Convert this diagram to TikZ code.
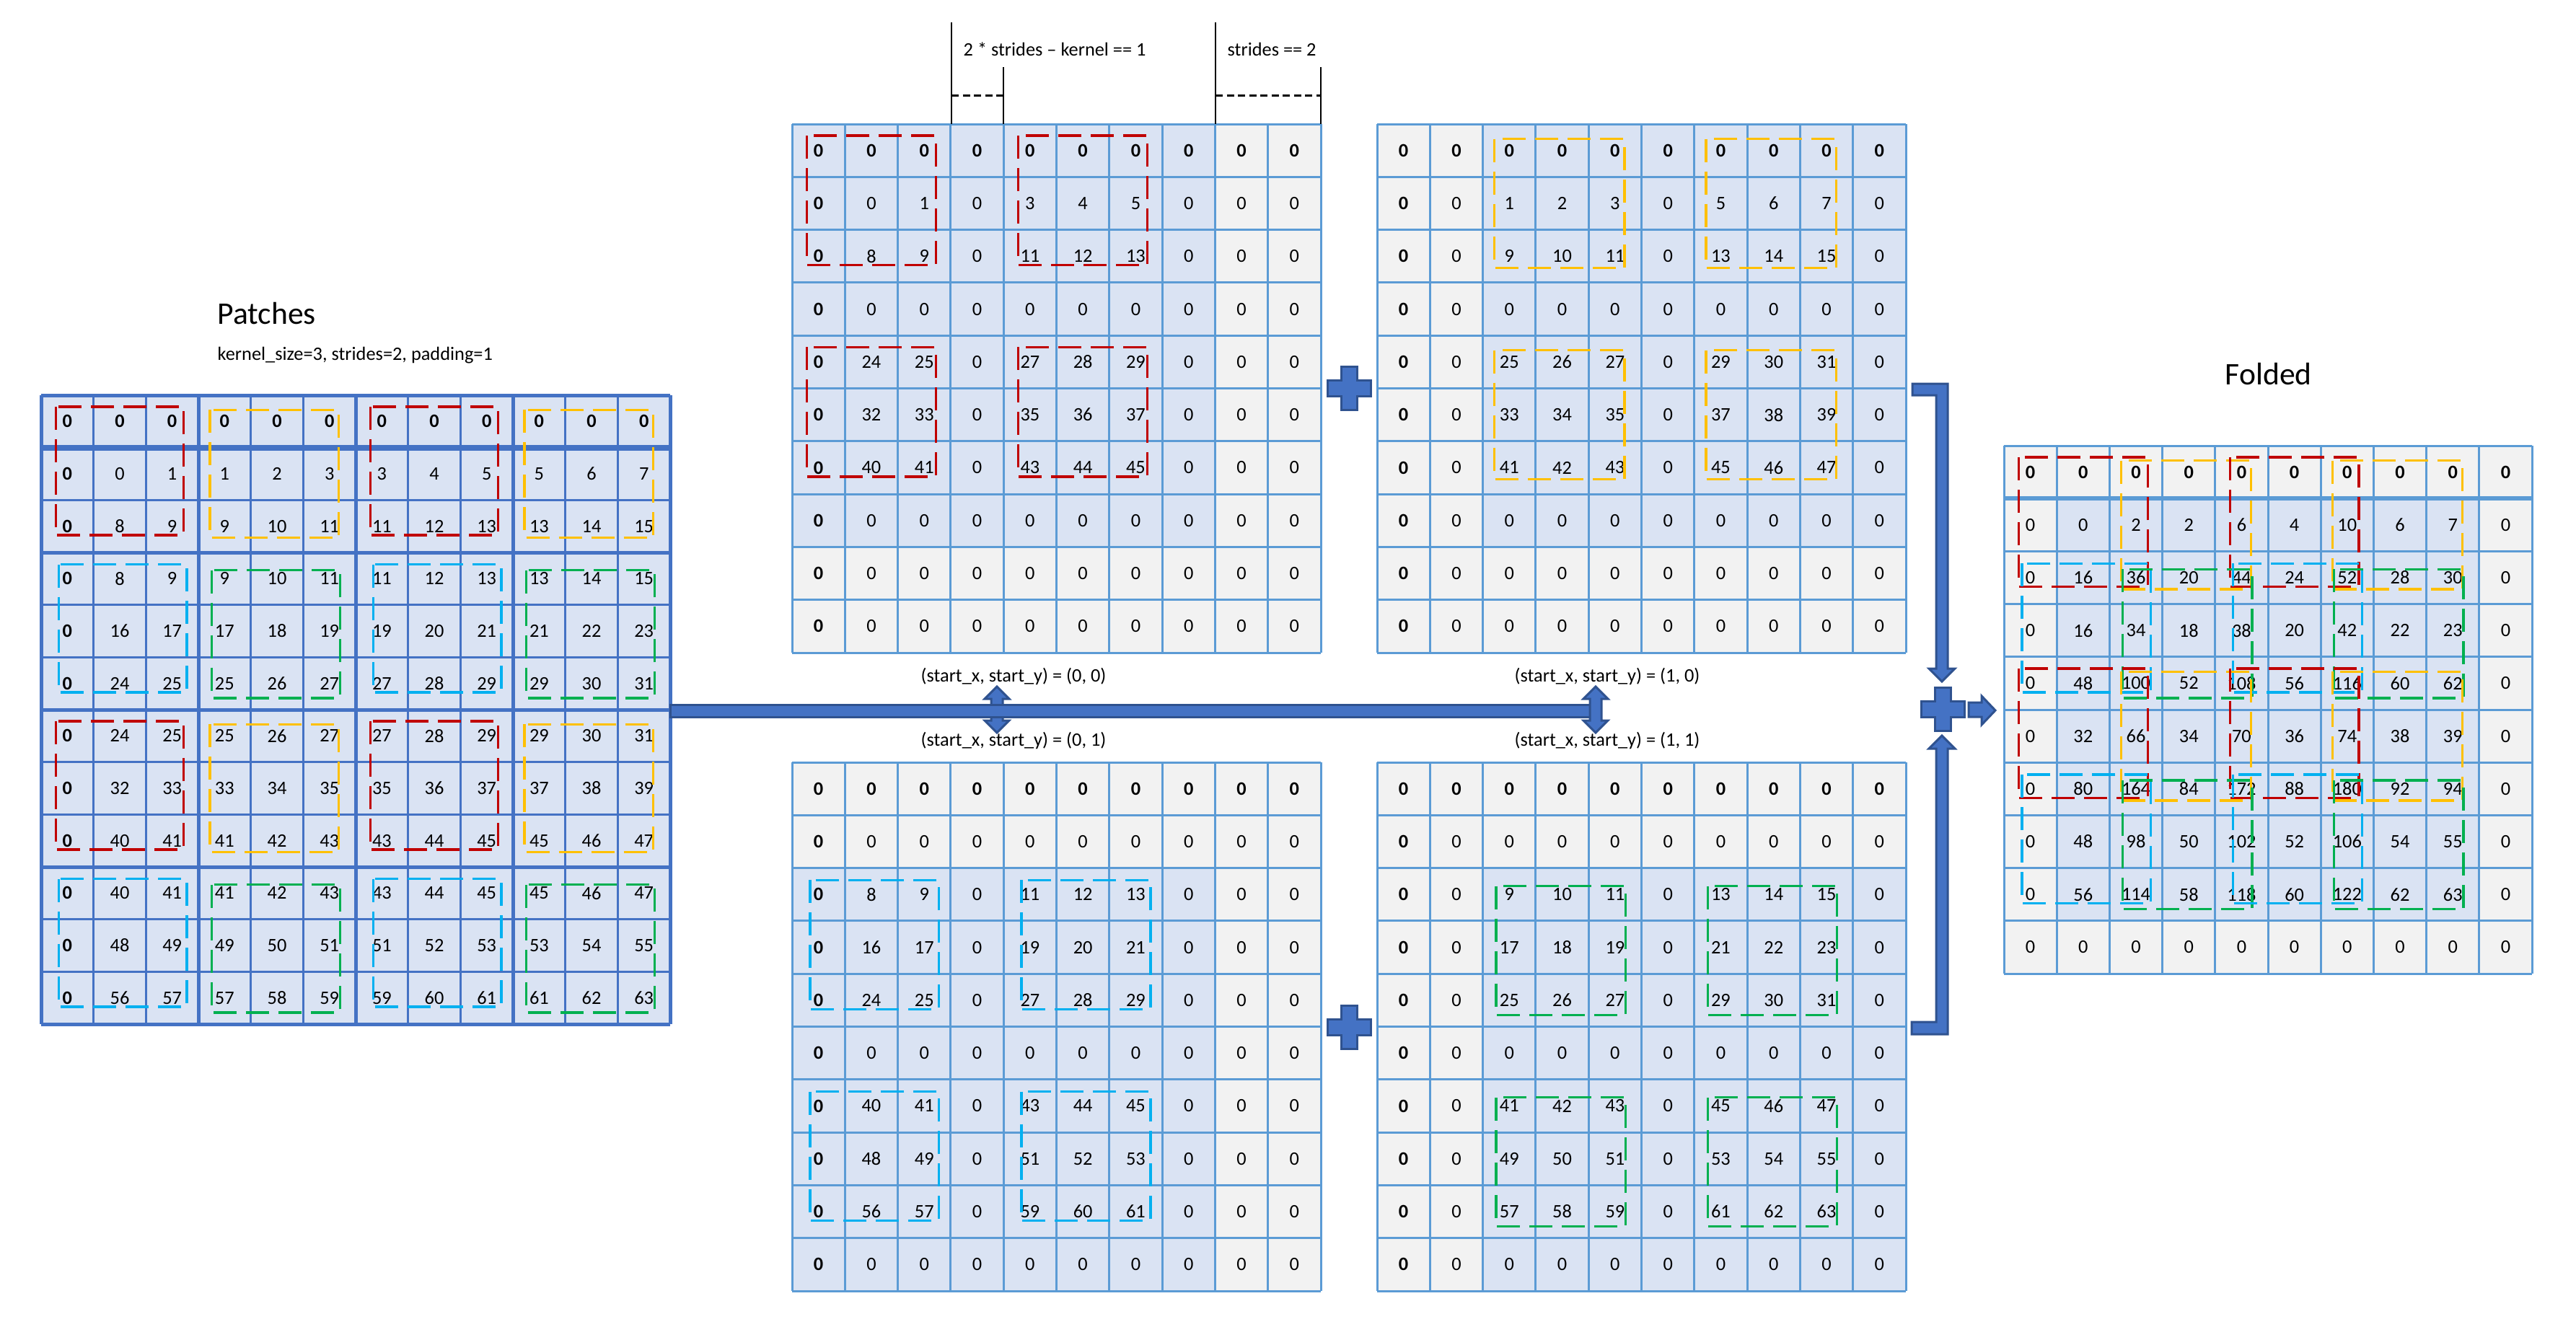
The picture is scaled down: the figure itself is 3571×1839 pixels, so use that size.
\documentclass[tikz,border=0pt]{standalone}
\usepackage{fontspec}
\setmainfont{Carlito}
\usetikzlibrary{calc}

\definecolor{cellblue}{HTML}{DAE3F3}
\definecolor{cellgray}{HTML}{F2F2F2}
\definecolor{gridblue}{HTML}{5B9BD5}
\definecolor{patchblue}{HTML}{4472C4}
\definecolor{shapefill}{HTML}{4472C4}
\definecolor{shapeline}{HTML}{2F528F}
\definecolor{kred}{HTML}{C00000}
\definecolor{kyellow}{HTML}{FFC000}
\definecolor{kcyan}{HTML}{00B0F0}
\definecolor{kgreen}{HTML}{00B050}

% 虚线框: #1 颜色编号, #2 行, #3 列, #4 格宽
\newcommand{\patchbox}[4]{%
  \ifcase#1\relax
    \def\bcol{kred}\def\kbl{.28}\def\kbt{.22}\def\kbr{.28}\def\kbb{.33}%
  \or
    \def\bcol{kyellow}\def\kbl{.22}\def\kbt{.28}\def\kbr{.32}\def\kbb{.28}%
  \or
    \def\bcol{kcyan}\def\kbl{.34}\def\kbt{.23}\def\kbr{.22}\def\kbb{.33}%
  \or
    \def\bcol{kgreen}\def\kbl{.25}\def\kbt{.34}\def\kbr{.30}\def\kbb{.22}%
  \fi
  \draw[dbox, draw=\bcol] ({(#3+\kbl)*#4},{(#2+\kbt)*#4}) rectangle ({(#3+3-\kbr)*#4},{(#2+3-\kbb)*#4});%
}

\begin{document}
\begin{tikzpicture}[
    x=0.1mm, y=-0.1mm,
    num/.style={font=\fontsize{7.5}{9}\selectfont, inner sep=0pt},
    lbl/.style={font=\fontsize{7.5}{9}\selectfont, inner sep=0pt, anchor=base},
    title/.style={font=\fontsize{12.4}{15}\selectfont, inner sep=0pt, anchor=base west},
    gline/.style={draw=gridblue, line width=0.3mm},
    pline/.style={draw=patchblue, line width=0.35mm},
    dbox/.style={line width=0.33mm, dash pattern=on 3.2mm off 1.3mm},
    bracketline/.style={draw=black, line width=0.25mm},
    bracketdash/.style={draw=black, line width=0.33mm, dash pattern=on 1mm off 0.55mm},
    blockarrow/.style={fill=shapefill, draw=shapeline, line width=0.3mm, line join=miter}
]
\useasboundingbox (0,0) rectangle (3571,1839);

% 左侧 Patches
\node[title] (ptitle) at (301,449) {Patches};
\node[lbl, anchor=base west] (pinfo) at (301,499) {kernel\_size=3, strides=2, padding=1};

\begin{scope}[shift={(57,548)}]
  \def\cellw{72.67}
  \fill[cellblue] (0,0) rectangle ({12*\cellw},{12*\cellw});
  \foreach \k in {0,...,12}{
    \draw[pline] ({\k*\cellw},0) -- ({\k*\cellw},{12*\cellw});
    \draw[pline] (0,{\k*\cellw}) -- ({12*\cellw},{\k*\cellw});
  }
  \foreach \k in {0,3,...,12}{
    \draw[pline, line width=0.5mm] ({\k*\cellw},0) -- ({\k*\cellw},{12*\cellw});
    \draw[pline, line width=0.5mm] (0,{\k*\cellw}) -- ({12*\cellw},{\k*\cellw});
  }
  \draw[pline, line width=0.8mm] (0,\cellw) -- ({12*\cellw},\cellw);
  \foreach \ri in {0,...,11}{
    \foreach \ci in {0,...,11}{
      \pgfmathtruncatemacro\prow{2*div(\ri,3)+mod(\ri,3)}
      \pgfmathtruncatemacro\pcol{2*div(\ci,3)+mod(\ci,3)}
      \pgfmathtruncatemacro\ispad{(\prow==0)||(\pcol==0)}
      \pgfmathtruncatemacro\val{(\prow-1)*8+\pcol-1}
      \ifnum\ispad=1 \def\celltext{\textbf{0}}\else \let\celltext\val \fi
      \node[num] (p-\ri-\ci) at ({(\ci+.5)*\cellw},{(\ri+.5)*\cellw}) {\celltext};
    }
  }
  \foreach \bi in {0,...,3}{
    \foreach \bj in {0,...,3}{
      \pgfmathtruncatemacro\pcode{2*mod(\bi,2)+mod(\bj,2)}
      \pgfmathtruncatemacro\brow{3*\bi}
      \pgfmathtruncatemacro\bcolm{3*\bj}
      \patchbox{\pcode}{\brow}{\bcolm}{\cellw}
    }
  }
\end{scope}

% 中间四个网格
\foreach \sx/\sy/\ox/\oy in {0/0/1098/172, 1/0/1909/172, 0/1/1098/1057, 1/1/1909/1057}{
  \begin{scope}[shift={(\ox,\oy)}]
    \def\cellw{73.3}
    \fill[cellgray] (0,0) rectangle ({10*\cellw},{10*\cellw});
    \fill[cellblue] ({2*\sx*\cellw},{2*\sy*\cellw}) rectangle ++({8*\cellw},{8*\cellw});
    \foreach \k in {0,...,10}{
      \draw[gline] ({\k*\cellw},0) -- ({\k*\cellw},{10*\cellw});
      \draw[gline] (0,{\k*\cellw}) -- ({10*\cellw},{\k*\cellw});
    }
    \foreach \ri in {0,...,9}{
      \foreach \ci in {0,...,9}{
        \pgfmathtruncatemacro\covr{(\ri>=2*\sy)&&(\ri<=2*\sy+6)&&(mod(\ri-2*\sy+8,4)<3)}
        \pgfmathtruncatemacro\covc{(\ci>=2*\sx)&&(\ci<=2*\sx+6)&&(mod(\ci-2*\sx+8,4)<3)}
        \pgfmathtruncatemacro\val{\covr*\covc*(\ri>0)*(\ci>0)*((\ri-1)*8+\ci-1)}
        \pgfmathtruncatemacro\ispad{(\ri==0)||(\ci==0)}
        \ifnum\ispad=1 \def\celltext{\textbf{0}}\else \let\celltext\val \fi
        \node[num] (g\sx\sy-\ri-\ci) at ({(\ci+.5)*\cellw},{(\ri+.5)*\cellw}) {\celltext};
      }
    }
    \foreach \k in {0,1}{
      \foreach \l in {0,1}{
        \pgfmathtruncatemacro\pcode{2*\sy+\sx}
        \pgfmathtruncatemacro\brow{2*\sy+4*\k}
        \pgfmathtruncatemacro\bcolm{2*\sx+4*\l}
        \patchbox{\pcode}{\brow}{\bcolm}{\cellw}
      }
    }
  \end{scope}
}

% 上方标注
\coordinate (ka) at (1319,31);  \coordinate (ka-g) at (1319,172);
\coordinate (kb) at (1391,93);  \coordinate (kb-g) at (1391,172);
\coordinate (sa) at (1685,31);  \coordinate (sa-g) at (1685,172);
\coordinate (sb) at (1831,93);  \coordinate (sb-g) at (1831,172);
\draw[bracketline] (ka) -- (ka-g);
\draw[bracketline] (kb) -- (kb-g);
\draw[bracketline] (sa) -- (sa-g);
\draw[bracketline] (sb) -- (sb-g);
\draw[bracketdash] ($(ka)!0.72!(ka-g)$) -- ($(ka)!0.72!(ka-g)+(72,0)$);
\draw[bracketdash] ($(sa)!0.72!(sa-g)$) -- ($(sa)!0.72!(sa-g)+(146,0)$);
\node[lbl, anchor=base west] (kdiff) at (1335,77) {2 * strides -- kernel == 1};
\node[lbl, anchor=base west] (sdiff) at (1701,77) {strides == 2};

% start 标签
\node[lbl] (l00) at (1405,945) {(start\_x, start\_y) = (0, 0)};
\node[lbl] (l01) at (1405,1034) {(start\_x, start\_y) = (0, 1)};
\node[lbl] (l10) at (2228,945) {(start\_x, start\_y) = (1, 0)};
\node[lbl] (l11) at (2228,1034) {(start\_x, start\_y) = (1, 1)};

% 箭头和加号
\coordinate (da1) at (1382,952);
\coordinate (da2) at (2212,952);
\draw[blockarrow] (da1) -- ++(17,17) -- ++(-9,0) -- ++(0,30) -- ++(9,0) -- ++(-17,17) -- ++(-17,-17) -- ++(9,0) -- ++(0,-30) -- ++(-9,0) -- cycle;
\coordinate (bar-w) at (929,977);
\coordinate (bar-e) at (2204,994);
\draw[blockarrow] (bar-w) rectangle (bar-e);
\draw[blockarrow] (da2) -- ++(17,17) -- ++(-9,0) -- ++(0,30) -- ++(9,0) -- ++(-17,17) -- ++(-17,-17) -- ++(9,0) -- ++(0,-30) -- ++(-9,0) -- cycle;

\coordinate (plus1) at (1870,538);
\coordinate (plus2) at (1870,1424);
\coordinate (plus3) at (2693,983);
\foreach \pp in {plus1,plus2,plus3}{
  \draw[blockarrow] ($(\pp)+(-11,-30)$) -- ++(22,0) -- ++(0,19) -- ++(19,0) -- ++(0,22) -- ++(-19,0) -- ++(0,19) -- ++(-22,0) -- ++(0,-19) -- ++(-19,0) -- ++(0,-22) -- ++(19,0) -- cycle;
}

\coordinate (bend1) at (2651,532);
\coordinate (bend2) at (2650,1434);
\draw[blockarrow] (bend1) -- ++(49,0) -- ++(0,395) -- ++(10,0) -- ++(-18,18) -- ++(-18,-18) -- ++(10,0) -- ++(0,-379) -- ++(-33,0) -- cycle;
\draw[blockarrow] (bend2) -- ++(50,0) -- ++(0,-396) -- ++(10,0) -- ++(-18,-18) -- ++(-18,18) -- ++(10,0) -- ++(0,379) -- ++(-34,0) -- cycle;

\coordinate (outarr) at (2729,974);
\draw[blockarrow] (outarr) -- ++(18,0) -- ++(0,-9) -- ++(19,20) -- ++(-19,20) -- ++(0,-11) -- ++(-18,0) -- cycle;

% 右侧 Folded
\node[title] (ftitle) at (3084,533) {Folded};
\begin{scope}[shift={(2778,618)}]
  \def\cellw{73.2}
  \fill[cellgray] (0,0) rectangle ({10*\cellw},{10*\cellw});
  \fill[cellblue] (\cellw,\cellw) rectangle ({9*\cellw},{9*\cellw});
  \foreach \k in {0,...,10}{
    \draw[gline] ({\k*\cellw},0) -- ({\k*\cellw},{10*\cellw});
    \draw[gline] (0,{\k*\cellw}) -- ({10*\cellw},{\k*\cellw});
  }
  \draw[gline, line width=0.6mm] (0,\cellw) -- ({10*\cellw},\cellw);
  \foreach \ri in {0,...,9}{
    \foreach \ci in {0,...,9}{
      \pgfmathtruncatemacro\mrow{(\ri<9)*(1+(\ri>=2)*(\ri<=6)*(mod(\ri,2)==0))}
      \pgfmathtruncatemacro\mcol{(\ci<9)*(1+(\ci>=2)*(\ci<=6)*(mod(\ci,2)==0))}
      \pgfmathtruncatemacro\val{(\ri>0)*(\ci>0)*\mrow*\mcol*((\ri-1)*8+\ci-1)}
      \ifnum\ri=0 \def\celltext{\textbf{0}}\else \let\celltext\val \fi
      \node[num] (f-\ri-\ci) at ({(\ci+.5)*\cellw},{(\ri+.5)*\cellw}) {\celltext};
    }
  }
  \foreach \bi in {0,...,3}{
    \foreach \bj in {0,...,3}{
      \pgfmathtruncatemacro\pcode{2*mod(\bi,2)+mod(\bj,2)}
      \pgfmathtruncatemacro\brow{2*\bi}
      \pgfmathtruncatemacro\bcolm{2*\bj}
      \patchbox{\pcode}{\brow}{\bcolm}{\cellw}
    }
  }
\end{scope}

\end{tikzpicture}
\end{document}
